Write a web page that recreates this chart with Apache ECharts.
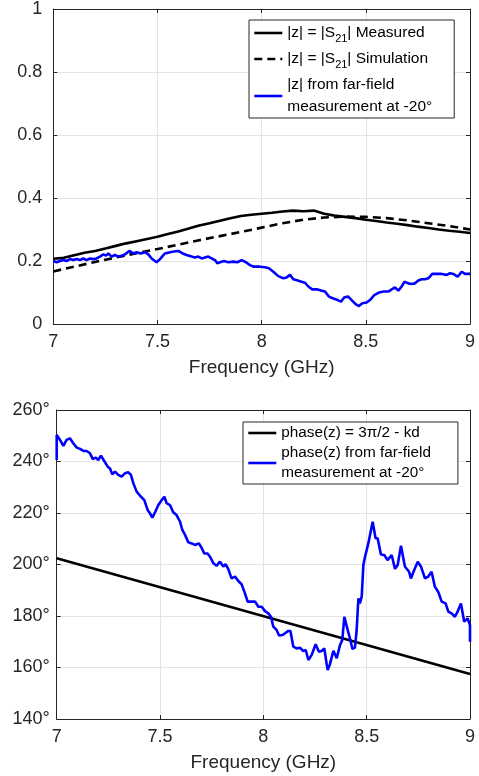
<!DOCTYPE html>
<html>
<head>
<meta charset="utf-8">
<script src="https://cdn.jsdelivr.net/npm/echarts@6/dist/echarts.min.js"></script>
<style>html,body{margin:0;padding:0;background:#fff}#c{width:479px;height:776px}</style>
</head>
<body>
<div id="c"></div>
<script>
// ---------- data ----------
const FONT = '"Liberation Sans", Arial, Helvetica, sans-serif';
const xTicks = [7, 7.5, 8, 8.5, 9];
const magTicks = [0, 0.2, 0.4, 0.6, 0.8, 1];
const phaseTicks = [140, 160, 180, 200, 220, 240, 260];

const freqMeas = [7.00,7.05,7.10,7.15,7.20,7.25,7.30,7.35,7.40,7.45,7.50,7.55,7.60,7.65,7.70,7.75,7.80,7.85,7.90,7.95,8.00,8.05,8.10,8.15,8.20,8.25,8.30,8.35,8.40,8.45,8.50,8.55,8.60,8.65,8.70,8.75,8.80,8.85,8.90,8.95,9.00];
const magMeasured = [0.207,0.210,0.218,0.226,0.232,0.240,0.248,0.256,0.263,0.270,0.277,0.286,0.294,0.303,0.313,0.320,0.328,0.336,0.343,0.347,0.350,0.353,0.357,0.360,0.358,0.360,0.350,0.344,0.340,0.336,0.331,0.327,0.322,0.318,0.314,0.309,0.305,0.300,0.296,0.293,0.289];

const freqSim = [7.0,7.1,7.2,7.3,7.4,7.5,7.6,7.7,7.8,7.9,8.0,8.1,8.2,8.3,8.4,8.5,8.6,8.7,8.8,8.9,9.0];
const magSimulated = [0.167,0.182,0.197,0.211,0.225,0.238,0.252,0.266,0.279,0.292,0.306,0.320,0.331,0.338,0.341,0.340,0.336,0.329,0.320,0.311,0.300];

const freqFarMag = [7.000,7.016,7.032,7.048,7.064,7.080,7.096,7.112,7.128,7.144,7.160,7.176,7.192,7.208,7.224,7.240,7.253,7.264,7.280,7.296,7.312,7.328,7.344,7.365,7.384,7.400,7.419,7.440,7.456,7.472,7.496,7.512,7.536,7.560,7.579,7.600,7.621,7.640,7.664,7.680,7.696,7.712,7.728,7.744,7.760,7.776,7.787,7.800,7.819,7.840,7.864,7.883,7.904,7.925,7.944,7.960,7.992,8.016,8.035,8.056,8.080,8.104,8.120,8.136,8.152,8.173,8.192,8.208,8.224,8.243,8.264,8.285,8.304,8.323,8.344,8.365,8.381,8.397,8.416,8.432,8.451,8.467,8.483,8.504,8.520,8.541,8.560,8.584,8.608,8.624,8.640,8.656,8.672,8.685,8.704,8.720,8.736,8.752,8.768,8.784,8.800,8.819,8.840,8.864,8.888,8.904,8.920,8.941,8.960,8.976,9.000];
const magFarField = [0.200,0.196,0.200,0.203,0.200,0.206,0.203,0.206,0.203,0.208,0.203,0.208,0.206,0.208,0.214,0.221,0.217,0.224,0.214,0.219,0.214,0.217,0.221,0.232,0.224,0.228,0.224,0.228,0.221,0.208,0.196,0.206,0.224,0.228,0.230,0.232,0.224,0.219,0.214,0.211,0.214,0.208,0.211,0.214,0.208,0.203,0.193,0.196,0.200,0.196,0.198,0.196,0.203,0.196,0.187,0.182,0.182,0.180,0.177,0.166,0.152,0.145,0.148,0.156,0.142,0.138,0.134,0.131,0.119,0.110,0.110,0.106,0.103,0.087,0.081,0.076,0.071,0.085,0.087,0.076,0.063,0.057,0.066,0.068,0.076,0.092,0.099,0.103,0.103,0.110,0.116,0.106,0.119,0.134,0.129,0.127,0.129,0.138,0.142,0.142,0.145,0.159,0.159,0.159,0.156,0.161,0.159,0.150,0.166,0.159,0.159];

const freqModel = [7, 9];
const phaseModel = [202.4, 157.5];

const freqFarPhase = [7.000,7.000,7.016,7.032,7.048,7.064,7.080,7.097,7.113,7.129,7.145,7.161,7.174,7.189,7.201,7.214,7.230,7.247,7.258,7.269,7.282,7.298,7.314,7.330,7.347,7.359,7.371,7.387,7.408,7.424,7.440,7.451,7.463,7.476,7.492,7.508,7.521,7.532,7.548,7.564,7.580,7.597,7.608,7.621,7.637,7.653,7.669,7.688,7.701,7.714,7.730,7.742,7.758,7.774,7.790,7.806,7.817,7.830,7.846,7.863,7.879,7.895,7.911,7.924,7.943,7.960,7.976,7.992,8.008,8.024,8.037,8.048,8.064,8.076,8.092,8.105,8.121,8.131,8.145,8.161,8.177,8.193,8.205,8.218,8.234,8.253,8.269,8.282,8.295,8.311,8.322,8.339,8.355,8.371,8.382,8.392,8.408,8.419,8.431,8.443,8.451,8.460,8.467,8.476,8.484,8.492,8.508,8.516,8.529,8.543,8.553,8.569,8.585,8.601,8.621,8.637,8.650,8.666,8.685,8.705,8.714,8.730,8.747,8.763,8.782,8.798,8.814,8.830,8.847,8.863,8.882,8.895,8.911,8.927,8.940,8.956,8.972,8.988,9.000,9.000];
const phaseFarField = [240.6,250.3,248.4,246.1,248.4,249.0,247.1,245.4,244.9,244.1,244.1,243.2,241.0,241.5,240.6,242.3,240.2,238.0,237.3,235.0,236.1,234.8,234.1,235.4,235.8,234.8,231.5,228.3,226.3,225.0,221.2,219.9,218.2,220.3,223.1,225.0,226.3,223.8,223.1,220.3,219.2,216.6,213.4,211.5,208.6,208.2,207.6,208.2,206.5,204.3,204.3,203.0,200.5,199.5,201.1,199.2,200.1,198.3,194.6,195.3,193.6,192.3,188.8,185.6,185.6,185.6,183.6,183.6,181.9,181.0,179.7,175.9,174.6,172.4,172.6,173.3,174.2,174.2,168.1,167.4,167.7,166.4,166.8,162.9,164.9,169.0,166.1,166.4,167.4,159.0,161.2,166.5,163.6,168.7,170.7,179.7,174.6,171.3,167.2,167.7,173.9,186.9,184.9,187.5,199.8,203.0,208.2,208.9,216.6,210.2,210.2,203.9,203.7,201.7,203.7,198.3,199.8,207.3,199.2,197.2,194.6,197.9,201.1,199.2,194.6,195.3,197.2,191.4,189.2,185.6,184.9,181.7,181.0,179.7,181.7,184.9,177.8,179.1,176.5,170.0];

const legendTop = ['|z| = |S21| Measured', '|z| = |S21| Simulation', '|z| from far-field measurement at -20°'];
const legendBottom = ['phase(z) = 3π/2 - kd', 'phase(z) from far-field measurement at -20°'];

// ---------- helpers ----------
const pairs = (xs, ys) => xs.map((x, i) => [x, ys[i]]);
const AX = '#262626';
const GRIDC = '#e3e3e3';

function xAxes(gi) {
  return [{
    type: 'value', gridIndex: gi, min: xTicks[0], max: xTicks[xTicks.length - 1], interval: 0.5,
    axisLine: {show: true, onZero: false, lineStyle: {color: AX, width: 1}},
    axisTick: {show: true, inside: true, length: 4, lineStyle: {color: AX}},
    splitLine: {show: true, lineStyle: {color: GRIDC, width: 1}},
    axisLabel: {fontSize: 18, color: AX, fontFamily: FONT, margin: 9},
    name: 'Frequency (GHz)', nameLocation: 'middle', nameGap: 34,
    nameTextStyle: {fontSize: 19, color: AX, fontFamily: FONT}
  }, {
    type: 'value', gridIndex: gi, position: 'top', min: xTicks[0], max: xTicks[xTicks.length - 1], interval: 0.5,
    axisLine: {show: true, onZero: false, lineStyle: {color: AX, width: 1}},
    axisTick: {show: true, inside: true, length: 4, lineStyle: {color: AX}},
    splitLine: {show: false}, axisLabel: {show: false}
  }];
}
function yAxes(gi, ticks, fmt, margin) {
  const mn = ticks[0], mx = ticks[ticks.length - 1], iv = ticks[1] - ticks[0];
  return [{
    type: 'value', gridIndex: gi, min: mn, max: mx, interval: iv,
    axisLine: {show: true, onZero: false, lineStyle: {color: AX, width: 1}},
    axisTick: {show: true, inside: true, length: 4, lineStyle: {color: AX}},
    splitLine: {show: true, lineStyle: {color: GRIDC, width: 1}},
    axisLabel: {fontSize: 18, color: AX, fontFamily: FONT, margin: margin, formatter: fmt}
  }, {
    type: 'value', gridIndex: gi, position: 'right', min: mn, max: mx, interval: iv,
    axisLine: {show: true, onZero: false, lineStyle: {color: AX, width: 1}},
    axisTick: {show: true, inside: true, length: 4, lineStyle: {color: AX}},
    splitLine: {show: false}, axisLabel: {show: false}
  }];
}

const topFmt = {};
topFmt[legendTop[0]] = '|z| = |S{sub|21}| Measured';
topFmt[legendTop[1]] = '|z| = |S{sub|21}| Simulation';
topFmt[legendTop[2]] = '|z| from far-field\nmeasurement at -20°';
const botFmt = {};
botFmt[legendBottom[0]] = 'phase(z) = 3π/2 - kd';
botFmt[legendBottom[1]] = 'phase(z) from far-field\nmeasurement at -20°';

const chart = echarts.init(document.getElementById('c'), null, {renderer: 'canvas'});
chart.setOption({
  animation: false,
  backgroundColor: '#ffffff',
  grid: [
    {left: 53.3, right: 9, top: 8.5, height: 315.5, containLabel: false},
    {left: 56.7, right: 9, top: 410, height: 309, containLabel: false}
  ],
  xAxis: [...xAxes(0), ...xAxes(1)],
  yAxis: [...yAxes(0, magTicks, v => String(v), 11), ...yAxes(1, phaseTicks, v => v + '°', 7)],
  legend: [{
    data: legendTop, orient: 'vertical', left: 249, top: 20, padding: [2, 22, 0, 4], itemGap: 4,
    itemWidth: 28, itemHeight: 14, backgroundColor: '#fff', borderColor: AX, borderWidth: 1, borderRadius: 0,
    itemStyle: {opacity: 0}, lineStyle: {width: 2.6},
    formatter: n => topFmt[n],
    textStyle: {fontSize: 15.5, color: '#000', fontFamily: FONT, lineHeight: 22,
      rich: {sub: {fontSize: 11, fontFamily: FONT, color: '#000', verticalAlign: 'bottom', lineHeight: 22}}}
  }, {
    data: legendBottom, orient: 'vertical', left: 243, top: 422, padding: [1, 27, 1, 4], itemGap: 0,
    itemWidth: 28, itemHeight: 14, backgroundColor: '#fff', borderColor: AX, borderWidth: 1, borderRadius: 0,
    itemStyle: {opacity: 0}, lineStyle: {width: 2.6},
    formatter: n => botFmt[n],
    textStyle: {fontSize: 15.3, color: '#000', fontFamily: FONT, lineHeight: 20}
  }],
  series: [
    {name: legendTop[0], type: 'line', xAxisIndex: 0, yAxisIndex: 0, data: pairs(freqMeas, magMeasured),
     symbol: 'none', lineStyle: {color: '#000', width: 2.6}, itemStyle: {color: '#000'}},
    {name: legendTop[1], type: 'line', xAxisIndex: 0, yAxisIndex: 0, data: pairs(freqSim, magSimulated),
     symbol: 'none', lineStyle: {color: '#000', width: 2.6, type: [8, 5]}, itemStyle: {color: '#000'}},
    {name: legendTop[2], type: 'line', xAxisIndex: 0, yAxisIndex: 0, data: pairs(freqFarMag, magFarField),
     symbol: 'none', lineStyle: {color: '#0000ff', width: 2.6}, itemStyle: {color: '#0000ff'}},
    {name: legendBottom[0], type: 'line', xAxisIndex: 2, yAxisIndex: 2, data: pairs(freqModel, phaseModel),
     symbol: 'none', lineStyle: {color: '#000', width: 2.6}, itemStyle: {color: '#000'}},
    {name: legendBottom[1], type: 'line', xAxisIndex: 2, yAxisIndex: 2, data: pairs(freqFarPhase, phaseFarField),
     symbol: 'none', lineStyle: {color: '#0000ff', width: 2.6}, itemStyle: {color: '#0000ff'}}
  ]
});
</script>
</body>
</html>
